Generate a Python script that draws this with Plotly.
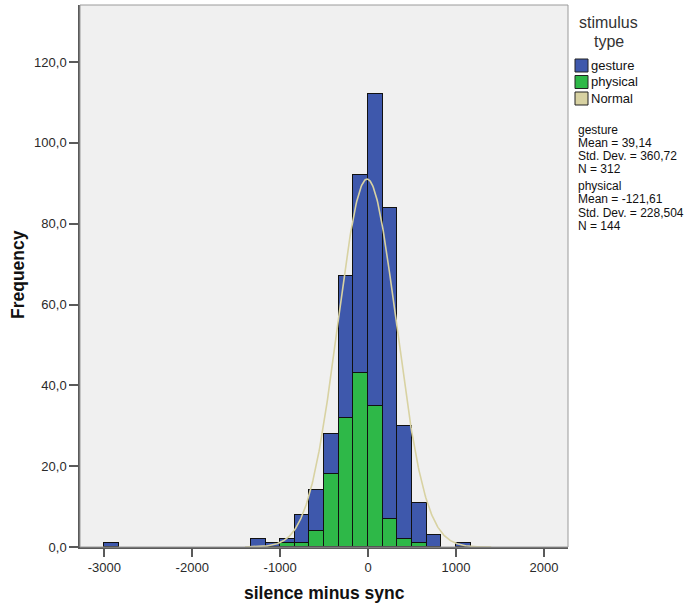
import numpy as np
import plotly.graph_objects as go

# ---------------- data ----------------
bin_width = 1000.0 / 6.0
bin_starts = [-3000.0, -1333.333, -1166.667, -1000.0, -833.333, -666.667, -500.0,
              -333.333, -166.667, 0.0, 166.667, 333.333, 500.0, 666.667, 1000.0]
gesture_counts = [1, 2, 1, 1, 7, 10, 10, 35, 49, 77, 77, 28, 10, 3, 1]
physical_counts = [0, 0, 0, 1, 1, 4, 18, 32, 43, 35, 7, 2, 1, 0, 0]

gesture_stats = {"mean": 39.14, "sd": 360.72, "n": 312}
physical_stats = {"mean": -121.61, "sd": 228.504, "n": 144}

x_tickvals = [-3000, -2000, -1000, 0, 1000, 2000]
x_ticktext = ["-3000", "-2000", "-1000", "0", "1000", "2000"]
y_tickvals = [0, 20, 40, 60, 80, 100, 120]
y_ticktext = ["0,0", "20,0", "40,0", "60,0", "80,0", "100,0", "120,0"]

legend_title = ["stimulus", "type"]
legend_labels = ["gesture", "physical", "Normal"]
stats_lines = [
    ["gesture", "Mean = 39,14", "Std. Dev. = 360,72", "N = 312"],
    ["physical", "Mean = -121,61", "Std. Dev. = 228,504", "N = 144"],
]

# ---------------- styles ----------------
BLUE = "#3E58AC"
GREEN = "#2EB848"
TAN = "#D8D2A2"
FONT = "Liberation Sans, Arial, sans-serif"
W, H = 696, 605
L, R, T, B = 80, 128, 5, 58
PW, PH = W - L - R, H - T - B


def px_x(px):
    return (px - L) / PW


def px_y(py):
    return (H - B - py) / PH


centers = [s + bin_width / 2 for s in bin_starts]

# combined normal fit
n1, n2 = gesture_stats["n"], physical_stats["n"]
m1, m2 = gesture_stats["mean"], physical_stats["mean"]
s1, s2 = gesture_stats["sd"], physical_stats["sd"]
N = n1 + n2
mu = (n1 * m1 + n2 * m2) / N
ss = (n1 - 1) * s1 ** 2 + (n2 - 1) * s2 ** 2 + n1 * (m1 - mu) ** 2 + n2 * (m2 - mu) ** 2
sd = np.sqrt(ss / (N - 1))
xc = np.linspace(-1400, 1400, 400)
yc = N * bin_width / (sd * np.sqrt(2 * np.pi)) * np.exp(-0.5 * ((xc - mu) / sd) ** 2)

fig = go.Figure()
fig.add_trace(go.Bar(x=centers, y=physical_counts, width=bin_width, name="physical",
                     marker=dict(color=GREEN, line=dict(color="#111111", width=1))))
fig.add_trace(go.Bar(x=centers, y=gesture_counts, width=bin_width, name="gesture",
                     marker=dict(color=BLUE, line=dict(color="#111111", width=1))))
fig.add_trace(go.Scatter(x=xc, y=yc, mode="lines", name="Normal",
                         line=dict(color=TAN, width=1.6)))

x_per_px = 5000 / (544 - 104.3)
x0 = -3000 - (104.3 - L) * x_per_px
x1 = x0 + PW * x_per_px
y_per_px = 120 / (546.7 - 61.7)
y1 = PH * y_per_px

annotations = []
shapes = []

# axis titles
annotations.append(dict(text="<b>silence minus sync</b>", x=px_x(324), y=px_y(593),
                        xref="paper", yref="paper", showarrow=False,
                        font=dict(family=FONT, size=17.5, color="#111111"),
                        xanchor="center", yanchor="middle"))
annotations.append(dict(text="<b>Frequency</b>", x=px_x(18), y=px_y(275),
                        xref="paper", yref="paper", showarrow=False, textangle=-90,
                        font=dict(family=FONT, size=17.5, color="#111111"),
                        xanchor="center", yanchor="middle"))

# legend title
annotations.append(dict(text=legend_title[0], x=px_x(577), y=px_y(22), xref="paper", yref="paper",
                        showarrow=False, xanchor="left", yanchor="middle",
                        font=dict(family=FONT, size=16, color="#333333")))
annotations.append(dict(text=legend_title[1], x=px_x(592), y=px_y(42), xref="paper", yref="paper",
                        showarrow=False, xanchor="left", yanchor="middle",
                        font=dict(family=FONT, size=16, color="#333333")))

swatch_colors = [BLUE, GREEN, TAN]
item_y = [65.5, 82, 98.5]
for lab, col, yy in zip(legend_labels, swatch_colors, item_y):
    shapes.append(dict(type="rect", xref="paper", yref="paper",
                       x0=px_x(575), x1=px_x(588), y0=px_y(yy + 6.5), y1=px_y(yy - 6.5),
                       fillcolor=col, line=dict(color="#222222", width=1)))
    annotations.append(dict(text=lab, x=px_x(589), y=px_y(yy), xref="paper", yref="paper",
                            showarrow=False, xanchor="left", yanchor="middle",
                            font=dict(family=FONT, size=13, color="#111111")))

stat_y0 = [129.8, 186.4]
for block, y0 in zip(stats_lines, stat_y0):
    for i, line in enumerate(block):
        annotations.append(dict(text=line, x=px_x(576.5), y=px_y(y0 + i * 13.1),
                                xref="paper", yref="paper", showarrow=False,
                                xanchor="left", yanchor="middle", borderpad=0,
                                font=dict(family=FONT, size=12, color="#111111")))

# plot frame
shapes.append(dict(type="rect", xref="paper", yref="paper", x0=0, x1=1, y0=0, y1=1,
                   line=dict(color="#9a9a9a", width=1), layer="above"))

fig.update_layout(
    width=W, height=H,
    margin=dict(l=L, r=R, t=T, b=B, pad=0),
    barmode="stack", bargap=0,
    showlegend=False,
    paper_bgcolor="white",
    plot_bgcolor="#F0F0F0",
    font=dict(family=FONT, size=13, color="#222222"),
    annotations=annotations,
    shapes=shapes,
)
fig.update_xaxes(range=[x0, x1], tickvals=x_tickvals, ticktext=x_ticktext,
                 showgrid=False, zeroline=False, showline=True, linecolor="#5a5a5a",
                 linewidth=1.5, ticks="outside", ticklen=8, tickwidth=1.5, tickcolor="#5a5a5a",
                 tickfont=dict(family=FONT, size=13, color="#2a2a2a"))
fig.update_yaxes(range=[0, y1], tickvals=y_tickvals, ticktext=y_ticktext,
                 showgrid=False, zeroline=False, showline=True, linecolor="#5a5a5a",
                 linewidth=1.5, ticks="outside", ticklen=9, tickwidth=1.5, tickcolor="#5a5a5a",
                 tickfont=dict(family=FONT, size=13, color="#2a2a2a"))

fig.write_html("out.html", config={"displayModeBar": False},
               post_script="document.body.style.margin='0';document.body.style.padding='0';")
